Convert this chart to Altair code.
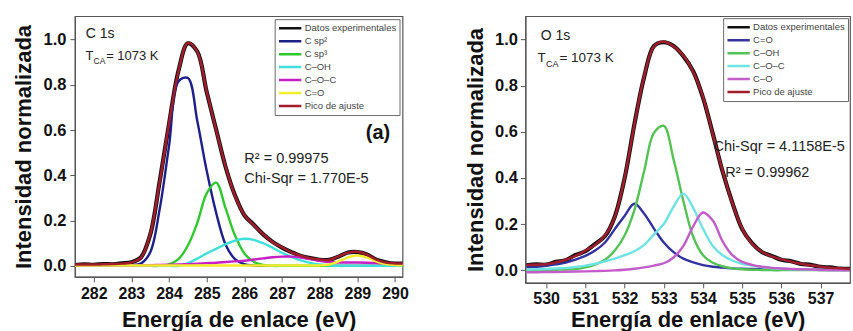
import altair as alt
import pandas as pd

FONT = "Liberation Sans"

# ---------------- Panel (a): C 1s ----------------
a_x = [281.5, 281.75, 282.0, 282.25, 282.5, 282.75, 283.0, 283.25, 283.5, 283.75,
       284.0, 284.25, 284.5, 284.75, 285.0, 285.25, 285.5, 285.75, 286.0, 286.25,
       286.5, 286.75, 287.0, 287.25, 287.5, 287.75, 288.0, 288.25, 288.5, 288.75,
       289.0, 289.25, 289.5, 289.75, 290.0, 290.25]
a_exp = [0.004, 0.007, 0.005, 0.008, 0.007, 0.011, 0.016, 0.037, 0.138, 0.372,
         0.628, 0.862, 0.983, 0.947, 0.768, 0.602, 0.438, 0.312, 0.224, 0.182,
         0.139, 0.106, 0.081, 0.061, 0.044, 0.035, 0.027, 0.027, 0.041, 0.059,
         0.061, 0.051, 0.027, 0.016, 0.010, 0.011]
a_csp2 = [0, 0, 0, 0, 0, 0.001, 0.003, 0.01, 0.06, 0.25,
          0.53, 0.815, 0.83, 0.64, 0.42, 0.235, 0.095, 0.03, 0.008, 0.002,
          0, 0, 0, 0, 0, 0, 0, 0, 0, 0,
          0, 0, 0, 0, 0, 0]
a_csp3 = [0, 0, 0, 0, 0, 0, 0, 0, 0, 0,
          0.007, 0.03, 0.09, 0.19, 0.32, 0.368, 0.255, 0.135, 0.055, 0.018,
          0.004, 0, 0, 0, 0, 0, 0, 0, 0, 0,
          0, 0, 0, 0, 0, 0]
a_coh = [0, 0, 0, 0, 0, 0, 0, 0, 0, 0,
         0, 0, 0.012, 0.032, 0.055, 0.075, 0.096, 0.112, 0.12, 0.115,
         0.10, 0.08, 0.058, 0.04, 0.024, 0.013, 0.006, 0.003, 0, 0,
         0, 0, 0, 0, 0, 0]
a_coc = [0.002, 0.002, 0.002, 0.002, 0.002, 0.002, 0.002, 0.003, 0.003, 0.004,
         0.005, 0.006, 0.008, 0.01, 0.012, 0.014, 0.017, 0.02, 0.023, 0.028,
         0.033, 0.038, 0.041, 0.041, 0.037, 0.03, 0.022, 0.017, 0.015, 0.015,
         0.015, 0.014, 0.012, 0.01, 0.008, 0.007]
a_cdo = [0.002, 0.002, 0.002, 0.002, 0.002, 0.002, 0.002, 0.002, 0.002, 0.002,
         0.002, 0.002, 0.002, 0.002, 0.002, 0.002, 0.002, 0.002, 0.002, 0.002,
         0.002, 0.002, 0.002, 0.002, 0.002, 0.002, 0.002, 0.006, 0.02, 0.038,
         0.046, 0.038, 0.02, 0.008, 0.004, 0.003]
a_fit = [0.006, 0.006, 0.006, 0.007, 0.008, 0.010, 0.015, 0.035, 0.14, 0.37,
         0.63, 0.86, 0.985, 0.945, 0.77, 0.60, 0.44, 0.31, 0.225, 0.18,
         0.14, 0.105, 0.082, 0.06, 0.045, 0.034, 0.028, 0.026, 0.042, 0.058,
         0.062, 0.05, 0.028, 0.015, 0.011, 0.010]
a_names = ["Datos experimentales", "C sp²", "C sp³", "C–OH", "C–O–C", "C=O", "Pico de ajuste"]
a_colors = ["#111111", "#1f1f8a", "#2fc92f", "#3fe0dc", "#c51fc5", "#f2ee2a", "#a11d2c"]
a_xticks = [282, 283, 284, 285, 286, 287, 288, 289, 290]

# ---------------- Panel (b): O 1s ----------------
b_x = [529.5, 529.75, 530.0, 530.25, 530.5, 530.75, 531.0, 531.25, 531.5, 531.75,
       532.0, 532.25, 532.5, 532.75, 533.0, 533.25, 533.5, 533.75, 534.0, 534.25,
       534.5, 534.75, 535.0, 535.25, 535.5, 535.75, 536.0, 536.25, 536.5, 536.75,
       537.0, 537.25, 537.5, 537.75]
b_exp = [0.021, 0.025, 0.024, 0.036, 0.043, 0.066, 0.082, 0.114, 0.148, 0.232,
         0.398, 0.632, 0.838, 0.972, 0.988, 0.972, 0.928, 0.862, 0.748, 0.592,
         0.428, 0.292, 0.178, 0.117, 0.079, 0.062, 0.045, 0.039, 0.027, 0.023,
         0.014, 0.012, 0.007, 0.006]
b_cdo = [0.012, 0.015, 0.019, 0.025, 0.033, 0.046, 0.062, 0.085, 0.12, 0.178,
         0.235, 0.288, 0.245, 0.18, 0.12, 0.078, 0.05, 0.034, 0.022, 0.015,
         0.011, 0.008, 0.006, 0.005, 0.004, 0.003, 0.003, 0.002, 0.002, 0.002,
         0.001, 0.001, 0.001, 0.001]
b_coh = [0.0, 0.0, 0.001, 0.002, 0.003, 0.005, 0.012, 0.024, 0.045, 0.085,
         0.15, 0.26, 0.43, 0.595, 0.625, 0.48, 0.30, 0.145, 0.065, 0.032,
         0.017, 0.008, 0.004, 0.002, 0.001, 0, 0, 0, 0, 0,
         0, 0, 0, 0]
b_coc = [0.003, 0.004, 0.005, 0.007, 0.01, 0.014, 0.02, 0.028, 0.038, 0.05,
         0.065, 0.082, 0.11, 0.155, 0.2, 0.275, 0.332, 0.27, 0.18, 0.105,
         0.065, 0.042, 0.028, 0.02, 0.013, 0.009, 0.006, 0.004, 0.003, 0.002,
         0.002, 0.001, 0.001, 0.001]
b_co = [-0.009, -0.009, -0.008, -0.008, -0.007, -0.006, -0.005, -0.004, -0.003, -0.001,
        0.002, 0.006, 0.012, 0.02, 0.03, 0.055, 0.105, 0.19, 0.25, 0.215,
        0.125, 0.065, 0.036, 0.023, 0.015, 0.01, 0.007, 0.005, 0.004, 0.003,
        0.002, 0.001, 0.0, 0.0]
b_fit = [0.022, 0.024, 0.026, 0.034, 0.045, 0.062, 0.085, 0.11, 0.15, 0.23,
         0.40, 0.63, 0.84, 0.97, 0.99, 0.97, 0.93, 0.86, 0.75, 0.59,
         0.43, 0.29, 0.18, 0.115, 0.08, 0.06, 0.047, 0.037, 0.028, 0.021,
         0.015, 0.011, 0.008, 0.005]
b_names = ["Datos experimentales", "C=O", "C–OH", "C–O–C", "C–O", "Pico de ajuste"]
b_colors = ["#111111", "#33339e", "#55c255", "#6fe2e2", "#c25cc8", "#a11d2c"]
b_xticks = [530, 531, 532, 533, 534, 535, 536, 537]

y_ticks = [0.0, 0.2, 0.4, 0.6, 0.8, 1.0]


def long_df(x, cols):
    rows = []
    for name, ys in cols:
        for xi, yi in zip(x, ys):
            rows.append({"x": xi, "y": yi, "serie": name})
    return pd.DataFrame(rows)


def text_layer(t, x, y, size, weight="normal", align="left", color="#222"):
    return alt.Chart(pd.DataFrame({"t": [t]})).mark_text(
        font=FONT, fontSize=size, fontWeight=weight, align=align,
        baseline="middle", color=color
    ).encode(x=alt.datum(x), y=alt.datum(y), text="t:N")


def panel(x, exp, comps, fit, names, colors, xdom, ydom, xticks, w, h,
          lab_size, lab_pad_x, title_pad_x, lab_pad_y, title_pad_y,
          leg_offset, annots):
    legend = alt.Legend(
        title=None, orient="top-right", offset=leg_offset,
        strokeColor="#6a6a6a", fillColor="white", padding=3,
        labelFont=FONT, labelFontSize=9.5, labelColor="#444",
        symbolType="stroke", symbolStrokeWidth=2.5, symbolSize=500,
        rowPadding=1, labelOffset=2, clipHeight=12, cornerRadius=0,
    )
    color = alt.Color("serie:N", scale=alt.Scale(domain=names, range=colors), legend=legend)
    xenc = alt.X("x:Q", scale=alt.Scale(domain=xdom, nice=False, zero=False),
                 axis=alt.Axis(values=xticks, format="d", title="Energía de enlace (eV)",
                               labelFontSize=lab_size, labelPadding=lab_pad_x,
                               titlePadding=title_pad_x, labelFlush=False))
    yenc = alt.Y("y:Q", scale=alt.Scale(domain=ydom, nice=False, zero=False),
                 axis=alt.Axis(values=y_ticks, format=".1f", title="Intensidad normalizada",
                               labelFontSize=lab_size + 0.5, labelPadding=lab_pad_y,
                               titlePadding=title_pad_y, labelFlush=False))
    exp_l = alt.Chart(long_df(x, [(names[0], exp)])).mark_line(
        strokeWidth=4.2, interpolate="catmull-rom", clip=True
    ).encode(x=xenc, y=yenc, color=color)
    comp_l = alt.Chart(long_df(x, list(zip(names[1:-1], comps)))).mark_line(
        strokeWidth=2.4, interpolate="catmull-rom", clip=True
    ).encode(x=xenc, y=yenc, color=color)
    fit_l = alt.Chart(long_df(x, [(names[-1], fit)])).mark_line(
        strokeWidth=2.5, interpolate="catmull-rom", clip=True
    ).encode(x=xenc, y=yenc, color=color)
    layers = [exp_l, comp_l, fit_l] + [text_layer(*a) for a in annots]
    return alt.layer(*layers).properties(width=w, height=h)


a_annots = [
    ("C 1s", 281.79, 1.023, 14),
    ("T", 281.78, 0.928, 13),
    ("CA", 281.995, 0.903, 8.5),
    ("= 1073 K", 282.33, 0.928, 13),
    ("(a)", 289.55, 0.587, 20, "bold", "center", "#111"),
    ("R² = 0.99975", 286.0, 0.472, 14.5),
    ("Chi-Sqr = 1.770E-5", 286.0, 0.384, 14.5),
]
b_annots = [
    ("O 1s", 529.86, 1.014, 14),
    ("T", 529.78, 0.92, 13.5),
    ("CA", 529.995, 0.895, 9),
    ("= 1073 K", 530.34, 0.92, 13.5),
    ("(b)", 537.01, 0.785, 21, "bold", "center", "#111"),
    ("Chi-Sqr = 4.1158E-5", 534.27, 0.534, 14.5),
    ("R² = 0.99962", 534.57, 0.421, 14.5),
]

chart_a = panel(a_x, a_exp, [a_csp2, a_csp3, a_coh, a_coc, a_cdo], a_fit, a_names, a_colors,
                [281.5, 290.2], [-0.0485, 1.103], a_xticks, 328, 261,
                16, 4, 8, 4, 8, 3, a_annots)
chart_b = panel(b_x, b_exp, [b_cdo, b_coh, b_coc, b_co], b_fit, b_names, b_colors,
                [529.47, 537.75], [-0.055, 1.101], b_xticks, 325, 267,
                16, 3, 3, 3, 7, 2, b_annots)

chart = alt.hconcat(chart_a, chart_b, spacing=54).resolve_scale(
    color="independent", x="independent", y="independent"
).properties(
    padding={"left": 11, "top": 15, "right": 2, "bottom": 0},
    background="white",
).configure_view(
    stroke="#555", strokeWidth=1.2
).configure_axis(
    grid=False, domainColor="#555", domainWidth=1.2, tickColor="#555", tickSize=5,
    labelFont=FONT, labelFontWeight="bold", labelColor="#111",
    titleFont=FONT, titleFontWeight="bold", titleFontSize=22, titleColor="#111",
)

chart.save("out.html", embed_options={"renderer": "svg", "actions": False})
